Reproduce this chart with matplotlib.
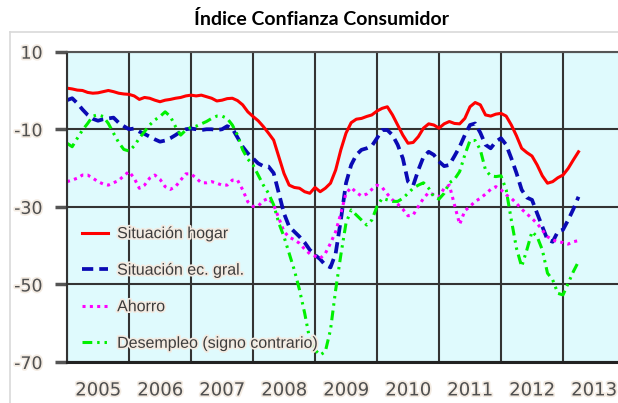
import numpy as np
import matplotlib.pyplot as plt
import matplotlib.patheffects as pe
from matplotlib.lines import Line2D

# Monthly series, Jan 2005 - Apr 2013
hogar = [0.6, 0.4, 0.1, 0.0, -0.5, -0.7, -0.6, -0.3, 0.0, -0.3, -0.7, -0.9,
         -1.0, -1.4, -2.3, -1.8, -2.0, -2.5, -2.9, -2.5, -2.3, -2.0, -1.8, -1.4,
         -1.2, -1.4, -1.2, -1.6, -2.0, -2.7, -2.5, -2.1, -2.0, -2.6, -3.7, -5.5,
         -6.7, -7.8, -9.3, -11.0, -12.8, -17.1, -21.4, -24.4, -25.0, -25.2, -26.1, -26.5,
         -25.0, -26.1, -25.2, -23.9, -20.5, -15.3, -11.0, -8.3, -7.4, -7.2, -6.7, -6.3,
         -5.3, -4.6, -4.2, -6.3, -8.9, -11.5, -13.6, -13.4, -11.9, -9.7, -8.6, -8.9,
         -9.7, -8.6, -8.0, -8.5, -8.6, -7.2, -4.2, -3.1, -3.7, -6.3, -6.6, -6.1,
         -5.9, -6.6, -8.9, -11.7, -14.9, -16.0, -16.9, -19.2, -22.0, -23.9, -23.5, -22.5,
         -21.8, -20.1, -17.9, -15.8]

econ = [-2.5, -2.0, -3.3, -4.9, -6.3, -7.3, -7.8, -7.4, -7.2, -7.0, -8.3, -9.2,
        -10.0, -9.8, -10.6, -11.2, -11.9, -12.6, -13.2, -12.9, -12.3, -11.5, -10.6, -10.0,
        -9.8, -10.0, -10.2, -10.0, -10.0, -10.2, -10.0, -9.2, -9.8, -12.1, -14.5, -16.2,
        -17.5, -18.8, -19.5, -19.6, -21.3, -26.5, -31.7, -35.1, -36.4, -37.7, -39.2, -41.1,
        -42.4, -43.5, -45.0, -45.6, -42.0, -33.4, -23.9, -19.2, -16.6, -15.3, -14.9, -14.3,
        -12.3, -10.2, -10.2, -11.5, -14.0, -17.5, -23.5, -24.5, -20.5, -17.1, -15.8, -16.6,
        -18.3, -19.5, -19.2, -16.9, -14.5, -11.5, -8.9, -8.5, -10.9, -14.0, -14.9, -13.2,
        -12.3, -14.0, -17.5, -21.3, -25.6, -27.6, -28.2, -31.7, -35.1, -38.5, -39.0, -36.4,
        -35.9, -33.4, -30.6, -27.4]

ahorro = [-23.5, -23.1, -22.6, -21.8, -21.8, -22.6, -23.5, -24.1, -24.4, -23.8, -23.2, -22.0,
          -20.9, -22.6, -25.2, -24.4, -22.6, -21.8, -22.9, -24.8, -25.5, -24.8, -23.1, -21.5,
          -21.5, -22.6, -23.8, -23.8, -23.5, -23.9, -24.4, -24.4, -23.1, -23.1, -25.6, -28.7,
          -29.9, -29.8, -28.4, -27.8, -29.5, -32.9, -36.4, -37.8, -38.5, -39.4, -40.9, -42.1,
          -42.7, -43.3, -42.0, -39.4, -36.4, -31.7, -26.5, -25.0, -26.3, -27.2, -26.7, -25.5,
          -24.4, -25.0, -26.7, -28.2, -29.3, -30.6, -32.3, -32.1, -29.9, -27.8, -26.3, -26.9,
          -27.4, -25.2, -24.4, -29.5, -34.5, -31.0, -29.9, -28.6, -27.8, -26.7, -25.5, -24.8,
          -25.6, -26.9, -27.8, -29.1, -30.6, -31.8, -33.0, -34.3, -36.0, -37.7, -38.5, -39.0,
          -39.2, -39.6, -39.0, -38.7]

desempleo = [-13.6, -14.5, -12.3, -10.2, -8.5, -6.6, -6.3, -6.7, -8.5, -11.0, -13.4, -15.2,
             -15.6, -14.3, -12.3, -10.6, -8.9, -7.6, -6.7, -5.5, -6.7, -9.3, -11.5, -10.2,
             -9.5, -9.2, -8.6, -8.0, -7.2, -6.6, -6.6, -7.2, -8.9, -11.5, -15.3, -17.7,
             -19.2, -21.8, -24.4, -26.5, -29.5, -34.2, -37.7, -42.0, -46.3, -51.4, -57.4, -64.3,
             -66.9, -68.2, -67.3, -61.7, -51.4, -42.4, -34.2, -30.8, -32.1, -33.4, -34.7, -33.4,
             -29.9, -27.8, -28.2, -28.6, -28.6, -27.8, -26.5, -25.2, -24.4, -23.8, -25.2, -27.4,
             -28.0, -26.5, -23.8, -22.9, -20.9, -16.6, -12.9, -12.9, -15.3, -20.5, -22.0, -22.2,
             -22.0, -25.6, -33.4, -40.7, -45.4, -41.1, -36.4, -37.7, -41.1, -47.1, -48.8, -52.3,
             -52.7, -49.7, -46.7, -44.1]

labels = ['Situación hogar', 'Situación ec. gral.', 'Ahorro', 'Desempleo (signo contrario)']
years = list(range(2005, 2014))
y_ticks = [10, -10, -30, -50, -70]

months = 2005 + np.arange(len(hogar)) / 12

W, H = 618, 403
fig = plt.figure(figsize=(W / 100, H / 100), dpi=100)
ax = fig.add_axes([67 / W, 1 - 362 / H, 1 - 67 / W, (362 - 51.7) / H])
ax.set_facecolor('#dffafd')

halo = [pe.withStroke(linewidth=2.5, foreground='#f3ebe2')]

ax.plot(months, hogar, color='#ff0000', lw=2.2, label=labels[0])
ax.plot(months, econ, color='#0a0ab4', lw=2.7, ls=(0, (3, 1.6)), label=labels[1])
ax.plot(months, ahorro, color='#ff00ff', lw=2.2, ls=(0, (1, 1.4)), label=labels[2])
ax.plot(months, desempleo, color='#00f000', lw=2.2,
        ls=(0, (3.2, 1.6, 0.8, 1.6, 0.8, 1.6)), label=labels[3])

ax.set_xlim(2005, 2005 + (W - 67) / 62)
ax.set_ylim(-70, 10)

# year gridlines, labels centred in each year
ax.set_xticks(years)
ax.set_xticklabels([])
ax.set_xticks([y + 0.5 for y in years], minor=True)
ax.set_xticklabels([str(y) for y in years], minor=True, fontsize=13,
                   color='#505050', path_effects=halo)
ax.tick_params(axis='x', which='both', length=0)
ax.tick_params(axis='x', which='minor', pad=14)

ax.set_yticks(y_ticks)
ax.set_yticklabels([str(v) for v in y_ticks], fontsize=12.5, color='#505050',
                   path_effects=halo)
ax.tick_params(axis='y', length=8.6, width=2.5, color='#555555', pad=9)

ax.grid(True, color='#333333', lw=1.5)
ax.set_axisbelow(True)
ax.spines['right'].set_visible(False)
ax.spines['left'].set_color('#333333')
ax.spines['left'].set_linewidth(1.5)
ax.spines['top'].set_color('#555555')
ax.spines['top'].set_linewidth(1.5)
ax.spines['bottom'].set_color('#222222')
ax.spines['bottom'].set_linewidth(2.2)

leg = ax.legend(loc='center left', bbox_to_anchor=(15 / 551, 0.237), frameon=False,
                borderpad=0, borderaxespad=0, handlelength=1.6,
                handletextpad=0.6, labelspacing=1.35,
                prop={'family': 'Liberation Sans', 'size': 11.5})
for t in leg.get_texts():
    t.set_color('#3c3c3c')
    t.set_path_effects(halo)

# light frame of the chart image
fig.add_artist(Line2D([10 / W, 1], [1 - 32 / H] * 2, color='#d9d9d9', lw=1.2))
fig.add_artist(Line2D([10 / W] * 2, [0, 1 - 32 / H], color='#d9d9d9', lw=1.2))

fig.text(321 / W, 1 - 19 / H, 'Índice Confianza Consumidor', ha='center', va='center',
         fontsize=14, fontweight='bold', family='Lato')

fig.savefig('out.png', dpi=100)
